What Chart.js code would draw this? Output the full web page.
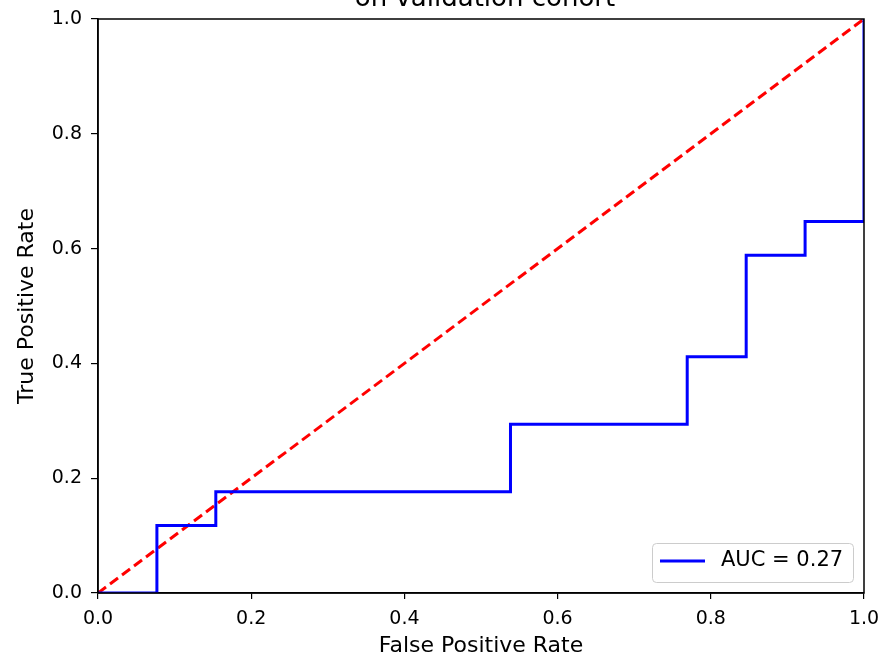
<!DOCTYPE html>
<html lang="en">
<head>
  <meta charset="UTF-8" />
  <title>ROC curve</title>
  <script src="https://cdn.jsdelivr.net/npm/chart.js"></script>
  <style>
    body { margin: 0; background: #fff; }
    #wrap { width: 887px; height: 659px; }
  </style>
</head>
<body>
  <div id="wrap"><canvas id="roc"></canvas></div>
  <script>
    // ROC points (steps at k/13 on x, k/17 on y)
    const fpr = [0, 0.0769, 0.0769, 0.1538, 0.1538, 0.5385, 0.5385, 0.7692, 0.7692, 0.8462, 0.8462, 0.9231, 0.9231, 1, 1];
    const tpr = [0, 0, 0.1176, 0.1176, 0.1765, 0.1765, 0.2941, 0.2941, 0.4118, 0.4118, 0.5882, 0.5882, 0.6471, 0.6471, 1];
    const chanceX = [0, 1];
    const chanceY = [0, 1];
    const tickValues = [0, 0.2, 0.4, 0.6, 0.8, 1.0];
    const aucLabel = 'AUC = 0.27';
    const titleText = 'on validation cohort';

    const font = 'DejaVu Sans';

    const extras = {
      id: 'extras',
      afterDraw(chart) {
        const { ctx, chartArea: a } = chart;
        ctx.save();
        // frame
        ctx.strokeStyle = '#000';
        ctx.lineWidth = 1.5;
        ctx.strokeRect(a.left, a.top, a.right - a.left, a.bottom - a.top);
        // title (top line cut off in the original)
        ctx.fillStyle = '#000';
        ctx.font = '26px ' + font;
        ctx.textAlign = 'center';
        ctx.textBaseline = 'alphabetic';
        ctx.fillText(titleText, (a.left + a.right) / 2 + 4, 6);
        // legend box
        const bx = 652, by = 543, bw = 201, bh = 39;
        ctx.fillStyle = 'rgba(255,255,255,0.8)';
        ctx.strokeStyle = '#ccc';
        ctx.lineWidth = 1;
        ctx.beginPath();
        ctx.roundRect(bx + 0.5, by + 0.5, bw, bh, 4);
        ctx.fill();
        ctx.stroke();
        ctx.strokeStyle = '#0000ff';
        ctx.lineWidth = 3;
        ctx.beginPath();
        ctx.moveTo(660, 561);
        ctx.lineTo(705, 561);
        ctx.stroke();
        ctx.fillStyle = '#000';
        ctx.font = '21px ' + font;
        ctx.textAlign = 'left';
        ctx.textBaseline = 'middle';
        ctx.fillText(aucLabel, 721, 561);
        ctx.restore();
      }
    };

    new Chart(document.getElementById('roc'), {
      type: 'scatter',
      data: {
        datasets: [
          {
            label: aucLabel,
            data: fpr.map((x, i) => ({ x: x, y: tpr[i] })),
            showLine: true,
            borderColor: '#0000ff',
            borderWidth: 3,
            pointRadius: 0,
            fill: false,
            tension: 0
          },
          {
            label: 'chance',
            data: chanceX.map((x, i) => ({ x: x, y: chanceY[i] })),
            showLine: true,
            borderColor: '#ff0000',
            borderWidth: 3,
            borderDash: [10, 5],
            pointRadius: 0,
            fill: false
          }
        ]
      },
      options: {
        responsive: true,
        maintainAspectRatio: false,
        animation: false,
        layout: { padding: { left: 0, right: 23, top: 19, bottom: 0 } },
        plugins: {
          legend: { display: false },
          tooltip: { enabled: false }
        },
        scales: {
          x: {
            type: 'linear',
            min: 0,
            max: 1,
            afterBuildTicks: s => { s.ticks = tickValues.map(v => ({ value: v })); },
            afterFit: s => { s.height = 66; s.paddingLeft = 0; s.paddingRight = 0; },
            grid: { drawOnChartArea: false, drawTicks: true, tickLength: 6, color: '#000', lineWidth: 1.2 },
            border: { display: true, color: '#000', width: 1.5 },
            ticks: {
              color: '#000',
              padding: 9,
              font: { family: font, size: 19 },
              callback: v => v.toFixed(1)
            },
            title: {
              display: true,
              text: 'False Positive Rate',
              color: '#000',
              font: { family: font, size: 22 },
              padding: { top: 0, bottom: 0 }
            }
          },
          y: {
            type: 'linear',
            min: 0,
            max: 1,
            afterBuildTicks: s => { s.ticks = tickValues.map(v => ({ value: v })); },
            afterFit: s => { s.width = 98; s.paddingTop = 0; s.paddingBottom = 0; },
            grid: { drawOnChartArea: false, drawTicks: true, tickLength: 7, color: '#000', lineWidth: 1.2 },
            border: { display: true, color: '#000', width: 1.5 },
            ticks: {
              color: '#000',
              padding: 9,
              font: { family: font, size: 19 },
              callback: v => v.toFixed(1)
            },
            title: {
              display: true,
              text: 'True Positive Rate',
              color: '#000',
              font: { family: font, size: 22 },
              padding: { top: 14, bottom: 0 }
            }
          }
        }
      },
      plugins: [extras]
    });
  </script>
</body>
</html>
